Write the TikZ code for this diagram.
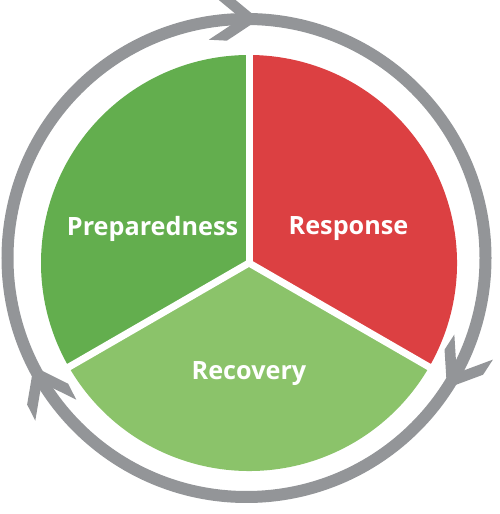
\documentclass[tikz,border=0pt]{standalone}
\usepackage{fontspec}
\setmainfont{Open Sans}
\definecolor{prepgreen}{RGB}{99,174,78}
\definecolor{respred}{RGB}{220,64,66}
\definecolor{recgreen}{RGB}{139,195,106}
\definecolor{ringgray}{RGB}{147,149,152}
\tikzset{
  sectorlabel/.style={text=white, font=\bfseries\fontsize{25.2}{30}\selectfont, inner sep=0pt},
  divider/.style={draw=white, line width=7pt},
  ring/.style={draw=ringgray, line width=12pt},
  chevron/.style={fill=ringgray}
}
\begin{document}
\begin{tikzpicture}[x=1pt,y=1pt]
\useasboundingbox (0,0) rectangle (500,514);
\coordinate (c) at (249,251);
\coordinate (rc) at (246.5,256);
% sectors
\fill[prepgreen] (c) -- ++(90:208) arc[start angle=90,end angle=210,radius=208] -- cycle;
\fill[respred] (c) -- ++(-30:208) arc[start angle=-30,end angle=90,radius=208] -- cycle;
\fill[recgreen] (c) -- ++(210:208) arc[start angle=210,end angle=330,radius=208] -- cycle;
% dividers
\draw[divider] (c) -- ++(90:215);
\draw[divider] (c) -- ++(210:215);
\draw[divider] (c) -- ++(330:215);
% ring
\draw[ring] (rc) circle[radius=239];
% arrowheads (clockwise)
\foreach \a in {87,-33,207}{
  \begin{scope}[shift={(rc)}, rotate=\a]
    \fill[chevron] (239,0) -- (262,31) -- (262,49) -- (239,18) -- (216,49) -- (216,31) -- cycle;
  \end{scope}
}
% labels
\node[sectorlabel] (prep) at (152.5,285) {Preparedness};
\node[sectorlabel] (resp) at (348.5,285) {Response};
\node[sectorlabel] (rec) at (249,140.5) {Recovery};
\end{tikzpicture}
\end{document}
